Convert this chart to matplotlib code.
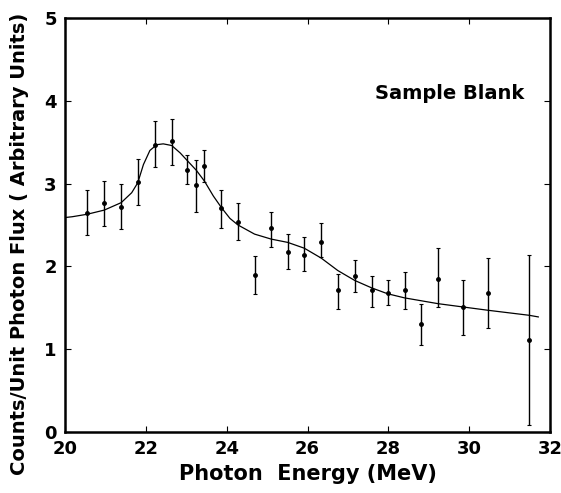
import numpy as np
import matplotlib.pyplot as plt

# measured points (photon energy in MeV, counts per unit flux)
energy = [20.55, 20.97, 21.38, 21.80, 22.22, 22.64, 23.02, 23.25, 23.45, 23.87,
          24.28, 24.69, 25.10, 25.51, 25.92, 26.34, 26.75, 27.17, 27.59, 27.98,
          28.40, 28.81, 29.23, 29.85, 30.47, 31.48]
counts = [2.64, 2.76, 2.72, 3.02, 3.47, 3.51, 3.17, 2.98, 3.21, 2.70,
          2.54, 1.90, 2.46, 2.18, 2.14, 2.30, 1.71, 1.89, 1.72, 1.68,
          1.71, 1.31, 1.85, 1.51, 1.68, 1.11]
err_hi = [2.92, 3.03, 3.00, 3.30, 3.75, 3.78, 3.35, 3.29, 3.40, 2.92,
          2.77, 2.12, 2.66, 2.39, 2.35, 2.53, 1.91, 2.08, 1.88, 1.84,
          1.93, 1.54, 2.22, 1.84, 2.10, 2.14]
err_lo = [2.38, 2.49, 2.45, 2.74, 3.20, 3.23, 3.00, 2.66, 3.02, 2.46,
          2.32, 1.67, 2.24, 1.97, 1.95, 2.11, 1.49, 1.69, 1.51, 1.53,
          1.48, 1.05, 1.51, 1.17, 1.26, 0.08]

# smooth fitted curve
curve_x = [20.0, 20.18, 20.55, 20.97, 21.39, 21.65, 21.80, 21.94, 22.10, 22.27,
           22.43, 22.64, 22.85, 23.04, 23.25, 23.45, 23.67, 23.87, 24.08, 24.28,
           24.69, 25.10, 25.51, 25.92, 26.34, 26.75, 27.17, 27.59, 27.98, 28.40,
           29.23, 29.85, 30.47, 31.48, 31.71]
curve_y = [2.59, 2.60, 2.63, 2.68, 2.77, 2.89, 3.01, 3.23, 3.40, 3.47,
           3.48, 3.46, 3.37, 3.27, 3.16, 3.03, 2.85, 2.71, 2.58, 2.50,
           2.39, 2.33, 2.29, 2.22, 2.10, 1.95, 1.83, 1.74, 1.67, 1.62,
           1.55, 1.51, 1.47, 1.41, 1.39]

bold = dict(family='DejaVu Sans', fontweight='bold')

fig = plt.figure(figsize=(5.61, 4.93), dpi=100)
ax = fig.add_axes([0.1159, 0.1237, 0.8645, 0.8398])

counts = np.array(counts)
yerr = [counts - np.array(err_lo), np.array(err_hi) - counts]
ax.errorbar(energy, counts, yerr=yerr, fmt='o', ms=2.5, color='black',
            ecolor='black', elinewidth=1.0, capsize=1.5, capthick=0.8)
ax.plot(curve_x, curve_y, color='black', lw=0.9)

ax.set_xlim(20, 32)
ax.set_ylim(0, 5)
ax.set_xticks([20, 22, 24, 26, 28, 30, 32])
ax.set_yticks([0, 1, 2, 3, 4, 5])
ax.tick_params(direction='in', length=4, width=0.8, top=True, right=True,
               labelsize=13)
ax.tick_params(axis='x', pad=6)
ax.tick_params(axis='y', pad=6)
for lab in ax.get_xticklabels() + ax.get_yticklabels():
    lab.set_fontweight('bold')
for sp in ax.spines.values():
    sp.set_linewidth(1.8)

ax.text(0.64, 0.805, 'Sample Blank', transform=ax.transAxes, fontsize=14, **bold)
ax.set_xlabel('Photon  Energy (MeV)', fontsize=15, labelpad=4, **bold)
ax.set_ylabel('Counts/Unit Photon Flux ( Arbitrary Units)', fontsize=14, **bold)
ax.yaxis.set_label_coords(-0.075, 0.455)

fig.savefig('out.png', dpi=100)
